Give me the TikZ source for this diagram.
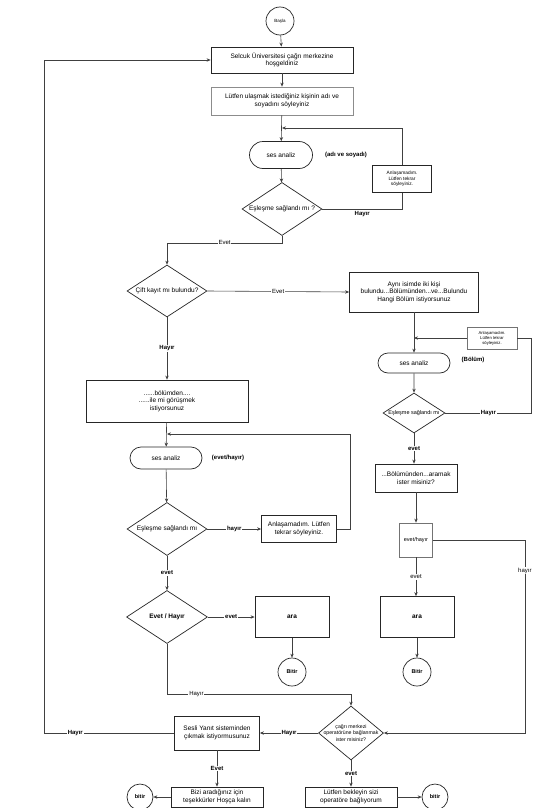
\documentclass[tikz,border=0pt]{standalone}
\usepackage{fontspec}
\setmainfont{Liberation Sans}
\usetikzlibrary{arrows.meta,shapes.geometric,shapes.misc}
\newcommand{\dtxt}[1]{\makebox[0pt]{#1}}

\begin{document}
\begin{tikzpicture}[
  x=1pt, y=-1pt,
  >={Stealth[length=4pt,width=3.4pt]},
  every node/.style={font=\fontsize{6.5}{7.6}\selectfont},
  box/.style={draw=black!85, line width=0.8pt, align=center, inner sep=1pt},
  softbox/.style={box, draw=black!45},
  note/.style={box, font=\fontsize{4.8}{5.6}\selectfont},
  term/.style={draw=black!85, line width=0.7pt, rounded rectangle, inner sep=1pt},
  decision/.style={draw=black!85, line width=0.7pt, diamond, inner sep=0pt, align=center},
  endpoint/.style={draw=black!85, line width=0.7pt, circle, inner sep=0pt,
                   font=\fontsize{5.5}{6.5}\selectfont\bfseries},
  lbl/.style={fill=white, inner sep=0.8pt, font=\fontsize{6}{7}\selectfont\bfseries},
  plainlbl/.style={lbl, font=\fontsize{6}{7}\selectfont},
  link/.style={draw=black!75, line width=0.6pt},
]
\path[use as bounding box, fill=white] (0,0) rectangle (541,808);

\node[endpoint, minimum size=28pt, font=\fontsize{4.5}{5}\selectfont] (basla) at (280,21) {Başla};
\node[box, minimum width=142pt, minimum height=26pt] (welcome) at (282,60)
  {Selcuk Üniversitesi çağrı merkezine\\hoşgeldiniz};
\node[softbox, minimum width=142pt, minimum height=28pt] (askname) at (282,101)
  {Lütfen ulaşmak istediğiniz kişinin adı ve\\soyadını söyleyiniz};
\node[term, minimum width=65pt, minimum height=27pt] (ses1) at (281,155) {ses analiz};
\node[lbl] (adlbl) at (346,155) {(adı ve soyadı)};
\node[note, minimum width=59pt, minimum height=27pt] (retry1) at (402,179)
  {Anlaşamadım.\\Lütfen tekrar\\söyleyiniz.};
\node[decision, minimum width=80pt, minimum height=53pt] (match1) at (282,209)
  {\dtxt{Eşleşme sağlandı mı ?}};
\coordinate (j1) at (282,128);

\node[decision, minimum width=80pt, minimum height=52pt] (cift) at (167,291)
  {\dtxt{Çift kayıt mı bulundu?}};
\node[box, minimum width=129pt, minimum height=40pt] (ayni) at (414,292)
  {Aynı isimde iki kişi\\bulundu...Bölümünden...ve...Bulundu\\Hangi Bölüm istiyorsunuz};

\node[box, minimum width=162pt, minimum height=42pt] (bolumden) at (167,401)
  {......bölümden....\\......ile mi görüşmek\\istiyorsunuz};
\node[term, minimum width=74pt, minimum height=22pt] (ses2) at (166,458) {ses analiz};
\node[lbl] (evhlbl) at (228,458) {(evet/hayır)};
\coordinate (j2) at (167,434);
\node[decision, minimum width=80pt, minimum height=53pt] (match2) at (167,529)
  {\dtxt{Eşleşme sağlandı mı}};
\node[box, minimum width=75pt, minimum height=27pt] (retry2) at (299,529)
  {Anlaşamadım. Lütfen\\tekrar söyleyiniz.};
\node[decision, minimum width=81pt, minimum height=53pt, font=\fontsize{6.5}{7.6}\selectfont\bfseries]
  (evha) at (167,617) {\dtxt{Evet / Hayır}};
\node[box, minimum width=74pt, minimum height=41pt, font=\fontsize{6.5}{7.6}\selectfont\bfseries]
  (ara1) at (292,617) {ara};
\node[endpoint, minimum size=28pt] (bitir1) at (292,672) {Bitir};

\node[term, minimum width=74pt, minimum height=20pt] (ses3) at (414,363) {ses analiz};
\node[lbl] (bollbl) at (473,360) {(Bölüm)};
\node[note, minimum width=50pt, minimum height=22pt, font=\fontsize{4.2}{5}\selectfont, draw=black!55]
  (retry3) at (492,338) {Anlaşamadım.\\Lütfen tekrar\\söyleyiniz.};
\coordinate (j3) at (414,338);
\node[decision, minimum width=62pt, minimum height=40pt, font=\fontsize{5.5}{6.5}\selectfont]
  (match3) at (414,413) {\dtxt{Eşleşme sağlandı mı}};
\node[box, minimum width=82pt, minimum height=28pt] (bolum2) at (416,478)
  {...Bölümünden...aramak\\ister misiniz?};
\node[box, draw=black!55, minimum width=33pt, minimum height=34pt, font=\fontsize{5.5}{6.5}\selectfont]
  (evh2) at (416,540) {\dtxt{evet/hayır}};
\node[box, minimum width=74pt, minimum height=41pt, font=\fontsize{6.5}{7.6}\selectfont\bfseries]
  (ara2) at (417,617) {ara};
\node[endpoint, minimum size=28pt] (bitir4) at (417,672) {Bitir};

\node[decision, minimum width=65pt, minimum height=54pt, font=\fontsize{5.2}{6.2}\selectfont]
  (oper) at (351,733) {\dtxt{çağrı merkezi}\\\dtxt{operatörüne bağlanmak}\\\dtxt{ister misiniz?}};
\node[box, minimum width=85pt, minimum height=34pt] (sesli) at (217,733)
  {Sesli Yanıt sisteminden\\çıkmak istiyormusunuz};
\node[box, minimum width=92pt, minimum height=20pt] (bizi) at (217,797)
  {Bizi aradığınız için\\teşekkürler Hoşça kalın};
\node[endpoint, minimum size=26pt] (bitir2) at (140,797) {bitir};
\node[box, minimum width=92pt, minimum height=20pt] (bekle) at (351,797)
  {Lütfen bekleyin sizi\\operatöre bağlıyorum};
\node[endpoint, minimum size=26pt] (bitir3) at (435,797) {bitir};

\draw[link, ->] (basla) -- (welcome);
\draw[link, ->] (welcome) -- (askname);
\draw[link, ->] (askname) -- (ses1);
\draw[link, ->] (retry1.north) |- (j1);
\draw[link, ->] (ses1) -- (match1);
\draw[link] (match1.east) -| node[lbl, pos=0.25, below=1pt, fill=none] {Hayır} (retry1.south);
\draw[link, ->] (match1.south) -- ++(0,7) -| node[plainlbl, pos=0.25] {Evet} (cift.north);
\draw[link, ->] (cift.east) -- node[plainlbl] {Evet} (ayni.west);
\draw[link, ->] (cift.south) -- node[lbl] {Hayır} (bolumden.north);

\draw[link, ->] (bolumden) -- (ses2);
\draw[link, ->] (ses2) -- (match2);
\draw[link, ->] (match2.east) -- node[lbl] {hayır} (retry2.west);
\draw[link, ->] (retry2.east) -- ++(13,0) |- (j2);
\draw[link, ->] (match2.south) -- node[lbl] {evet} (evha.north);
\draw[link, ->] (evha.east) -- node[lbl] {evet} (ara1.west);
\draw[link, ->] (ara1) -- (bitir1);
\draw[link, ->] (evha.south) -- ++(0,50) -| node[plainlbl, pos=0.08] {Hayır} (oper.north);

\draw[link, ->] (ayni) -- (ses3);
\draw[link, ->] (retry3.west) -- (j3);
\draw[link, ->] (ses3) -- (match3);
\draw[link] (match3.east) -- node[lbl] {Hayır} ++(86,0) |- (retry3.east);
\draw[link, ->] (match3.south) -- node[lbl] {evet} (bolum2.north -| match3.south);
\draw[link, ->] (bolum2) -- (evh2);
\draw[link, ->] (evh2) -- node[plainlbl] {evet} (ara2.north -| evh2.south);
\draw[link, ->] (ara2) -- (bitir4);
\draw[link, ->] (evh2.east) -- ++(92,0) |- node[plainlbl, pos=0.08] {hayır} (oper.east);

\draw[link, ->] (oper.west) -- node[lbl] {Hayır} (sesli.east);
\draw[link, ->] (sesli.west) -- node[lbl, pos=0.76] {Hayır} ++(-130,0) |- (welcome.west);
\draw[link, ->] (sesli.south) -- node[lbl] {Evet} (bizi.north);
\draw[link, ->] (bizi.west) -- (bitir2.east);
\draw[link, ->] (oper.south) -- node[lbl] {evet} (bekle.north);
\draw[link, ->] (bekle.east) -- (bitir3.west);
\end{tikzpicture}
\end{document}
